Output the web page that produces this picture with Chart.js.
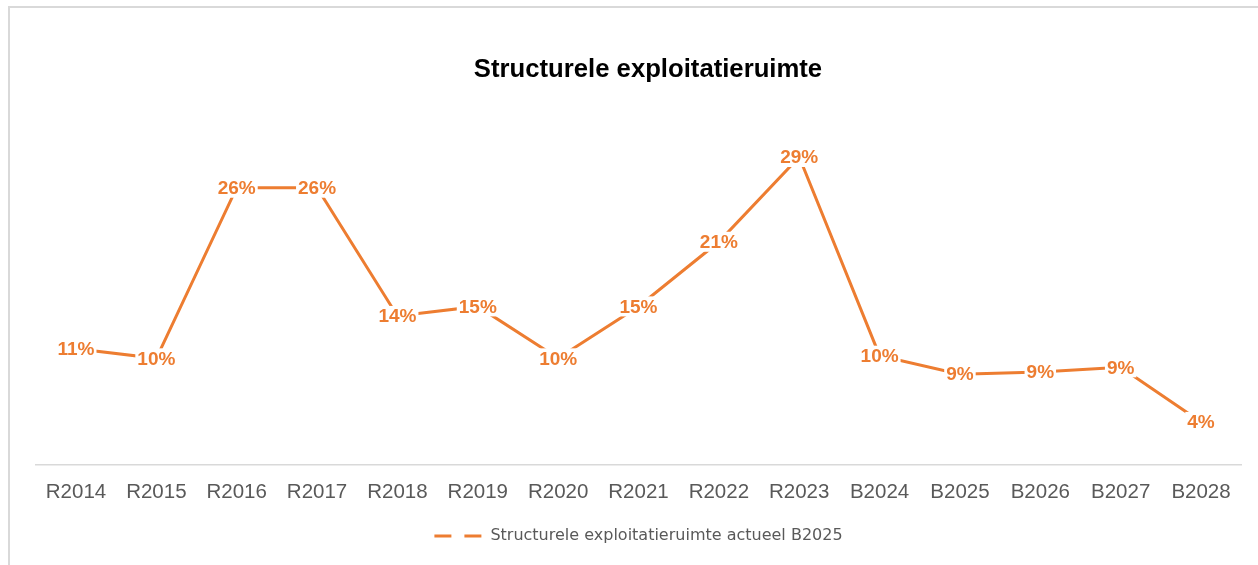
<!DOCTYPE html>
<html>
<head>
<meta charset="utf-8">
<script src="https://cdn.jsdelivr.net/npm/chart.js@4.4.1/dist/chart.umd.min.js"></script>
<style>
  html, body { margin: 0; padding: 0; background: #ffffff; overflow: hidden; }
  #wrap { position: relative; width: 1258px; height: 565px; }
  #frame { position: absolute; left: 8px; top: 6px; width: 1300px; height: 700px;
           border-left: 2px solid #d9d9d9; border-top: 2px solid #d9d9d9; box-sizing: border-box; }
  #c { position: absolute; left: 0; top: 0; }
</style>
</head>
<body>
<div id="wrap">
  <div id="frame"></div>
  <canvas id="c" width="1258" height="565"></canvas>
</div>
<script>
// ---- data ----
const chartTitle = 'Structurele exploitatieruimte';
const categories = ['R2014','R2015','R2016','R2017','R2018','R2019','R2020','R2021','R2022','R2023','B2024','B2025','B2026','B2027','B2028'];
const seriesName = 'Structurele exploitatieruimte actueel B2025';
const seriesValues = [10.9, 10.0, 26.1, 26.1, 14.0, 14.9, 10.0, 14.9, 21.0, 29.0, 10.25, 8.5, 8.7, 9.15, 4.0];

const ORANGE = '#ED7D31';

const titlePlugin = {
  id: 'customTitle',
  afterDraw(chart) {
    const ctx = chart.ctx;
    ctx.save();
    ctx.font = 'bold 25.7px "Liberation Sans", Arial, sans-serif';
    ctx.fillStyle = '#000000';
    ctx.textAlign = 'center';
    ctx.textBaseline = 'middle';
    ctx.fillText(chartTitle, 648, 70);
    ctx.restore();
  }
};

const labelPlugin = {
  id: 'pointLabels',
  afterDatasetsDraw(chart) {
    const ctx = chart.ctx;
    const meta = chart.getDatasetMeta(0);
    ctx.save();
    ctx.font = 'bold 19px "Liberation Sans", Arial, sans-serif';
    ctx.textAlign = 'center';
    ctx.textBaseline = 'middle';
    meta.data.forEach((pt, i) => {
      const txt = Math.round(seriesValues[i]) + '%';
      const w = ctx.measureText(txt).width;
      ctx.fillStyle = '#ffffff';
      ctx.fillRect(pt.x - w / 2 - 2, pt.y - 10, w + 4, 20);
      ctx.fillStyle = ORANGE;
      ctx.fillText(txt, pt.x, pt.y + 1);
    });
    ctx.restore();
  }
};

new Chart(document.getElementById('c'), {
  type: 'line',
  data: {
    labels: categories,
    datasets: [{
      label: seriesName,
      data: seriesValues,
      borderColor: ORANGE,
      backgroundColor: ORANGE,
      borderWidth: 3,
      tension: 0,
      pointRadius: 0,
      pointHoverRadius: 0,
      fill: false
    }]
  },
  options: {
    responsive: false,
    animation: false,
    devicePixelRatio: 1,
    layout: { padding: { top: 146.4, left: 35.8, right: 16.8, bottom: 11 } },
    scales: {
      x: {
        offset: true,
        grid: { display: false, drawTicks: false },
        border: { display: true, color: '#d9d9d9', width: 1.5 },
        ticks: {
          color: '#595959',
          font: { family: '"Liberation Sans", Arial, sans-serif', size: 20.5 },
          padding: 15.6,
          maxRotation: 0,
          autoSkip: false
        }
      },
      y: {
        display: false,
        min: 0,
        max: 30
      }
    },
    plugins: {
      title: { display: false },
      tooltip: { enabled: false },
      legend: {
        display: true,
        position: 'bottom',
        labels: {
          usePointStyle: true,
          pointStyle: 'line',
          pointStyleWidth: 48,
          boxWidth: 48,
          padding: 7.9,
          color: '#595959',
          font: { family: '"DejaVu Sans", sans-serif', size: 16 },
          generateLabels: () => [{
            text: seriesName,
            strokeStyle: ORANGE,
            fillStyle: ORANGE,
            lineWidth: 3,
            lineDash: [17, 13],
            lineCap: 'butt',
            pointStyle: 'line',
            fontColor: '#595959',
            datasetIndex: 0,
            hidden: false
          }]
        }
      }
    }
  },
  plugins: [titlePlugin, labelPlugin]
});
</script>
</body>
</html>
